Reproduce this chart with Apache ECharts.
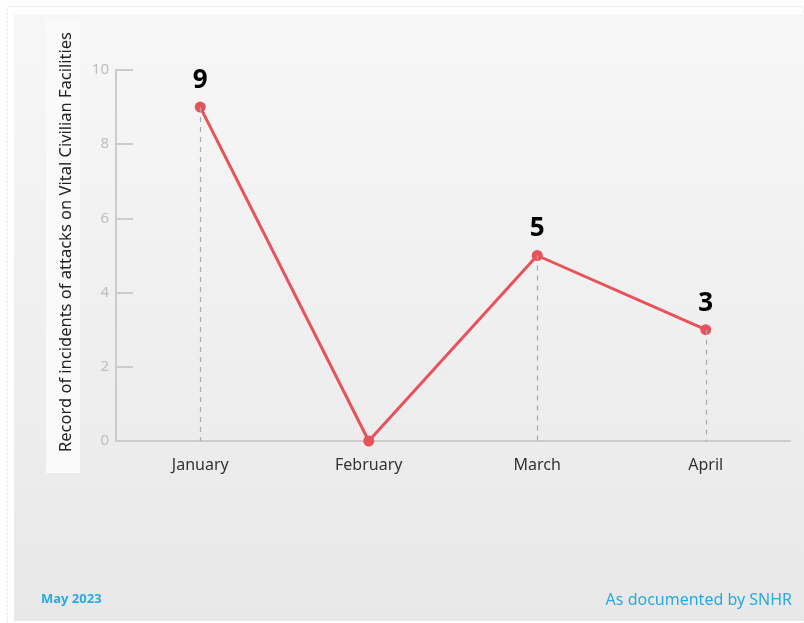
<!DOCTYPE html>
<html><head><meta charset="utf-8">
<script src="https://cdn.jsdelivr.net/npm/echarts@6/dist/echarts.min.js"></script>
<style>html,body{margin:0;padding:0;background:#fff}#c{width:804px;height:623px}</style>
</head><body><div id="c"></div>
<script>
const categories = ['January', 'February', 'March', 'April'];
const incidents = [9, 0, 5, 3];
const yTicks = [0, 2, 4, 6, 8, 10];
const yTitle = 'Record of incidents of attacks on Vital Civilian Facilities';
const dateText = 'May 2023';
const sourceText = 'As documented by SNHR';

const chart = echarts.init(document.getElementById('c'), null, {renderer: 'canvas'});
const dropLines = categories.map((c, i) => incidents[i] > 0 ? [{coord: [c, incidents[i]]}, {coord: [c, 0]}] : null).filter(Boolean);
const font = '"Noto Sans", "Open Sans", sans-serif';
chart.setOption({
  animation: false,
  graphic: [
    {type: 'rect', z: -10, shape: {x: 7.5, y: 6.5, width: 796, height: 620}, style: {fill: '#fff', stroke: '#e2e2e2', lineDash: [2, 2], lineWidth: 1}},
    {type: 'rect', z: -9, shape: {x: 14, y: 14, width: 790, height: 607}, style: {fill: new echarts.graphic.LinearGradient(0, 0, 0, 1, [{offset: 0, color: '#f7f7f7'}, {offset: 1, color: '#e8e8e8'}])}},
    {type: 'rect', z: -8, shape: {x: 46, y: 20, width: 34, height: 453}, style: {fill: '#fafafa'}},
    {type: 'text', x: 66, y: 242, rotation: Math.PI / 2, z: 5,
      style: {text: yTitle, fill: '#222', font: '16.5px ' + font, align: 'center', verticalAlign: 'middle'}},
    {type: 'text', left: 41, top: 593, style: {text: dateText, fill: '#29a9df', font: 'bold 13px ' + font}},
    {type: 'text', right: 12, top: 592, style: {text: sourceText, fill: '#29a9df', font: '16px ' + font}}
  ],
  grid: {left: 116, right: 14, top: 70, bottom: 182},
  xAxis: {
    type: 'category', data: categories, boundaryGap: true,
    axisLine: {lineStyle: {color: '#cccccc', width: 2}},
    axisTick: {inside: true, length: 9, lineStyle: {color: '#cccccc', width: 2}},
    axisLabel: {color: '#333', fontSize: 16, fontFamily: font, margin: 16}
  },
  yAxis: {
    type: 'value', min: 0, max: 10, interval: 2,
    axisLine: {show: true, lineStyle: {color: '#cccccc', width: 2}},
    axisTick: {show: true, inside: true, length: 17, lineStyle: {color: '#cccccc', width: 2}},
    axisLabel: {color: '#bdbdbd', fontSize: 15, fontFamily: font, margin: 7},
    splitLine: {show: false}
  },
  series: [{
    type: 'line', data: incidents,
    symbol: 'circle', symbolSize: 11,
    lineStyle: {color: '#e8525a', width: 3},
    itemStyle: {color: '#e8525a'},
    label: {show: true, position: 'top', distance: 8, color: '#000', fontWeight: 'bold', fontSize: 26, fontFamily: font,
      formatter: p => p.value > 0 ? String(p.value) : ''},
    markLine: {silent: true, symbol: 'none', label: {show: false},
      lineStyle: {color: '#aaaaaa', type: [5, 5], width: 1.2}, data: dropLines},
    z: 3
  }]
});
</script></body></html>
